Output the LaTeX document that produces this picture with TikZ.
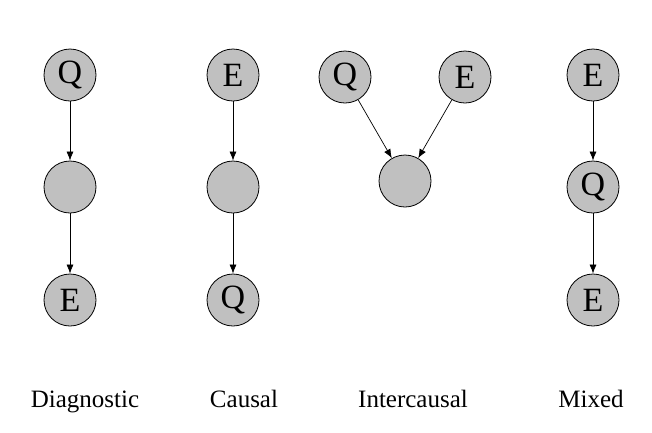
\documentclass[tikz,border=0pt]{standalone}
\usepackage{fontspec}
\setmainfont{Liberation Serif}
\usetikzlibrary{positioning,arrows.meta}
\definecolor{nodegray}{RGB}{192,192,192}
\tikzset{
    var/.style = {
        draw,
        shape=circle,
        fill=nodegray,
        minimum size=52pt,
        inner sep=0pt,
        line width=0.8pt,
        font=\fontsize{34}{34}\selectfont
    },
    caption/.style = {
        anchor=base,
        font=\fontsize{25}{25}\selectfont
    },
    edge/.style = {
        draw,
        ->,
        line width=0.7pt
    },
    >={Latex[length=9pt,width=7pt]},
}
\begin{document}
\begin{tikzpicture}[x=1pt,y=-1pt]
            \useasboundingbox (0,0) rectangle (652,432);
            % diagnostic
            \node[var] (dq) at (70,75) {Q};
            \node[var] (dm) at (70,187) {};
            \node[var] (de) at (70,300) {E};
            % causal
            \node[var] (ce) at (233,75) {E};
            \node[var] (cm) at (233,187) {};
            \node[var] (cq) at (233,300) {Q};
            % intercausal
            \node[var] (iq) at (345,77) {Q};
            \node[var] (ie) at (465,77) {E};
            \node[var] (im) at (405,181) {};
            % mixed
            \node[var] (me) at (593,75) {E};
            \node[var] (mq) at (593,187) {Q};
            \node[var] (mb) at (593,300) {E};

            \path[edge] (dq) -- (dm);
            \path[edge] (dm) -- (de);
            \path[edge] (ce) -- (cm);
            \path[edge] (cm) -- (cq);
            \path[edge] (iq) -- (im);
            \path[edge] (ie) -- (im);
            \path[edge] (me) -- (mq);
            \path[edge] (mq) -- (mb);

            \node[caption] (diag) at (85,407) {Diagnostic};
            \node[caption] (caus) at (244,407) {Causal};
            \node[caption] (inter) at (413,407) {Intercausal};
            \node[caption] (mix) at (591,407) {Mixed};
        \end{tikzpicture}
\end{document}
